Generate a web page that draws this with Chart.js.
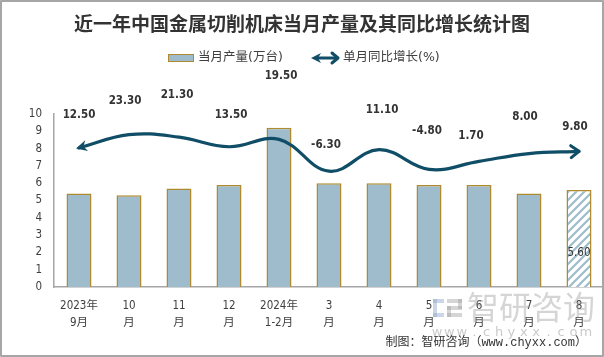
<!DOCTYPE html>
<html><head><meta charset="utf-8">
<script src="https://cdn.jsdelivr.net/npm/chart.js@4"></script>
<style>html,body{margin:0;padding:0;background:#fff}#wrap{width:604px;height:357px;position:relative}canvas{display:block}</style>
</head><body><div id="wrap"><canvas id="c" width="604" height="357"></canvas></div>
<script>
const categories = [['2023年','9月'],['10','月'],['11','月'],['12','月'],['2024年','1-2月'],['3','月'],['4','月'],['5','月'],['6','月'],['7','月'],['8','月']];
const output = [5.4, 5.3, 5.7, 5.9, 9.2, 6.0, 6.0, 5.9, 5.9, 5.4, 5.6];
const growth = [12.5, 23.3, 21.3, 13.5, 19.5, -6.3, 11.1, -4.8, 1.7, 8.0, 9.8];
const outputLabel = '当月产量(万台)';
const growthLabel = '单月同比增长(%)';
const titleText = '近一年中国金属切削机床当月产量及其同比增长统计图';
const footerText = '制图：智研咨询（www.chyxx.com）';

const BAR_FILL = '#9ebccb', BAR_BORDER = '#b08a2e', LINE = '#0f4e66', TXT = '#404040';
const NUM_FONT = "'DejaVu Sans Condensed','DejaVu Sans',sans-serif";
const CJK = "'Noto Sans CJK SC',sans-serif";

function hatch(){
  const n=8;
  const c=document.createElement('canvas');c.width=n;c.height=n;
  const x=c.getContext('2d');x.fillStyle='#fff';x.fillRect(0,0,n,n);
  x.strokeStyle=BAR_FILL;x.lineWidth=2.2;x.beginPath();
  x.moveTo(-1,n+1);x.lineTo(n+1,-1);x.moveTo(-3,3);x.lineTo(3,-3);x.moveTo(n-3,n+3);x.lineTo(n+3,n-3);x.stroke();
  return x.createPattern(c,'repeat');
}
const pattern = hatch();
const last = output.length-1;

function stealth(ctx,x,y,ang,len,half){
  ctx.save();ctx.translate(x,y);ctx.rotate(ang);
  ctx.beginPath();ctx.moveTo(0,0);ctx.lineTo(-len,-half);ctx.lineTo(-len*0.7,0);ctx.lineTo(-len,half);ctx.closePath();ctx.fill();
  ctx.restore();
}
function chevron(ctx,x,y,ang,len,half){
  ctx.save();ctx.translate(x,y);ctx.rotate(ang);
  ctx.beginPath();ctx.moveTo(-len,-half);ctx.lineTo(0,0);ctx.lineTo(-len,half);ctx.stroke();
  ctx.restore();
}

const labelDy = [33,34,42,32,63,26,40,38,25,37,24];
const labelDx = [0,-4,-2,2,2,-3,3,-2,-8,-4,-4];

const deco = {
  id:'deco',
  beforeDraw(chart){const c=chart.ctx;c.save();c.fillStyle='#fff';c.fillRect(0,0,chart.width,chart.height);c.restore();},
  afterDraw(chart){
    const c=chart.ctx;c.save();
    // title
    c.fillStyle='#333';c.font="bold 19px "+CJK;c.textAlign='center';c.textBaseline='middle';
    c.fillText(titleText,302,24);
    // legend
    c.fillStyle=BAR_FILL;c.fillRect(168.5,54.5,25,7);c.strokeStyle=BAR_BORDER;c.lineWidth=1;c.strokeRect(168.5,54.5,25,7);
    c.fillStyle=TXT;c.font="12.5px 'DejaVu Sans',"+CJK;c.textAlign='left';
    c.fillText(outputLabel,198,58);
    c.strokeStyle=LINE;c.fillStyle=LINE;c.lineWidth=3;c.lineCap='round';c.lineJoin='round';
    c.beginPath();c.moveTo(318,58);c.lineTo(337,58);c.stroke();
    stealth(c,311,58,Math.PI,10,5);
    chevron(c,338,58,0,6,5);
    c.fillStyle=TXT;c.fillText(growthLabel,343,58);
    // arrowheads on line
    const meta=chart.getDatasetMeta(1);const pts=meta.data;
    const p0=pts[0],pn=pts[pts.length-1];
    c.fillStyle=LINE;c.strokeStyle=LINE;c.lineWidth=3;
    const a0=Math.atan2(p0.y-(p0.cp2y??pts[1].y),p0.x-(p0.cp2x??pts[1].x));
    stealth(c,p0.x-3,p0.y+0.5,a0,11,5.5);
    const an=Math.atan2(pn.y-(pn.cp1y??pts[pts.length-2].y),pn.x-(pn.cp1x??pts[pts.length-2].x));
    chevron(c,pn.x,pn.y,an,8,6);
    // line labels
    c.fillStyle='#333';c.font="bold 11.5px "+NUM_FONT;c.textAlign='center';c.textBaseline='middle';
    pts.forEach((p,i)=>{c.fillText(growth[i].toFixed(2),p.x+labelDx[i],p.y-labelDy[i]);});
    // last bar label
    const bm=chart.getDatasetMeta(0).data[last];
    c.font="11.5px "+NUM_FONT;c.fillText(output[last].toFixed(2),bm.x,bm.base-34);
    // watermark
    c.fillStyle='rgba(140,165,200,0.45)';
    c.fillRect(433,299,4,18);c.fillRect(433,299,11,4);c.fillRect(433,313,11,4);
    c.fillStyle='rgba(150,150,150,0.4)';
    c.fillRect(447,299,15,4);c.fillRect(458,299,4,10);c.fillRect(447,306,15,4);c.fillRect(447,306,4,11);c.fillRect(447,313,15,4);
    c.fillStyle='rgba(150,150,150,0.4)';c.font="32px "+CJK;c.textAlign='left';
    c.fillText('智研咨询',467,307);
    c.font="13px 'DejaVu Sans',sans-serif";c.fillStyle='rgba(150,150,150,0.5)';c.textAlign='center';
    const w='www.chyxx.com';for(let i=0;i<w.length;i++)c.fillText(w[i],437+i*12.4,333);
    // footer
    c.fillStyle='#333';c.font="12px 'Liberation Mono',"+CJK;c.textAlign='right';
    c.fillText(footerText,587,343);
    // frame
    c.strokeStyle='#a6a6a6';c.lineWidth=2;c.strokeRect(1,1,602,355);
    c.restore();
  }
};

new Chart(document.getElementById('c'),{
  data:{labels:categories,datasets:[
    {type:'bar',label:outputLabel,data:output,yAxisID:'y',order:2,
     backgroundColor:output.map((v,i)=>i===last?pattern:BAR_FILL),borderColor:BAR_BORDER,borderWidth:1.5,
     barPercentage:0.5,categoryPercentage:1.0},
    {type:'line',label:growthLabel,data:growth,yAxisID:'y1',order:1,borderColor:LINE,borderWidth:3.2,
     tension:0.4,pointRadius:0,fill:false,borderCapStyle:'round'}
  ]},
  options:{
    responsive:false,devicePixelRatio:1,animation:false,
    layout:{padding:{top:114,left:0,right:0,bottom:0}},
    plugins:{legend:{display:false},title:{display:false},tooltip:{enabled:false}},
    scales:{
      x:{grid:{display:false,drawTicks:false},border:{display:true,color:'#a6a6a6',width:1.5},
         ticks:{color:TXT,font:{family:NUM_FONT+","+CJK,size:11.5,lineHeight:1.5},padding:10,maxRotation:0,autoSkip:false},
         afterFit(s){s.height=70;}},
      y:{position:'left',min:0,max:10,grid:{display:false,drawTicks:false},border:{display:true,color:'#a6a6a6',width:1.5},
         ticks:{stepSize:1,color:TXT,font:{family:NUM_FONT,size:11.5},padding:12},
         afterFit(s){s.width=54;}},
      y1:{position:'right',display:false,min:-100,max:40}
    }
  },
  plugins:[deco]
});
</script></body></html>
